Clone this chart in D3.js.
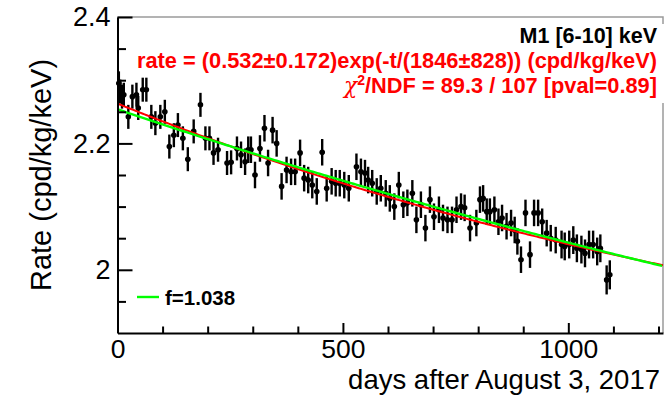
<!DOCTYPE html>
<html>
<head>
<meta charset="utf-8">
<script src="https://cdn.jsdelivr.net/npm/d3@7"></script>
<style>
  html, body { margin: 0; padding: 0; background: #fff; }
  svg { display: block; font-family: "Liberation Sans", Arial, Helvetica, sans-serif; }
</style>
</head>
<body>
<svg id="chart" width="671" height="396"></svg>
<script>
// Measured rate per time bin (days after August 3, 2017), M1 events, 6-10 keV
const days = [
  3, 6, 10, 14, 24, 33, 42, 46, 56, 64, 75, 84, 95, 105, 115, 125, 134, 145, 156, 169, 184, 195, 204, 213, 223, 243, 252, 265,
  274, 283, 290, 296, 305, 316, 326, 334, 344, 353, 364, 375, 385, 394, 405, 414, 423, 432, 442, 454, 464, 475, 484, 493, 503, 513,
  530, 540, 549, 556, 565, 575, 584, 595, 604, 614, 624, 634, 643, 654, 663, 673, 683, 693, 702, 713, 722, 732, 742, 752, 762, 770, 782,
  796, 804, 811, 819, 826, 836, 845, 853, 863, 873, 881, 887, 895, 905, 915, 924, 933, 942, 952, 961, 972,
  985, 992, 1002, 1011, 1019, 1029, 1037, 1046, 1055, 1064, 1071, 1085, 1092
];
const rates = [
  2.295, 2.282, 2.274, 2.277, 2.242, 2.274, 2.277, 2.256, 2.285, 2.285, 2.242, 2.232, 2.242, 2.250, 2.195, 2.213, 2.229, 2.208, 2.175, 2.219, 2.261, 2.208, 2.208, 2.185, 2.190, 2.169, 2.170, 2.192,
  2.182, 2.171, 2.190, 2.190, 2.150, 2.192, 2.224, 2.169, 2.221, 2.200, 2.132, 2.158, 2.155, 2.155, 2.185, 2.145, 2.142, 2.134, 2.124, 2.186, 2.129, 2.140, 2.137, 2.137, 2.134, 2.129,
  2.163, 2.155, 2.153, 2.142, 2.137, 2.124, 2.129, 2.121, 2.113, 2.100, 2.134, 2.103, 2.106, 2.121, 2.079, 2.103, 2.066, 2.111, 2.084, 2.095, 2.082, 2.079, 2.079, 2.095, 2.100, 2.098, 2.066,
  2.074, 2.111, 2.113, 2.092, 2.092, 2.095, 2.076, 2.082, 2.069, 2.074, 2.063, 2.045, 2.016, 2.090, 2.024, 2.090, 2.090, 2.076, 2.058, 2.050, 2.047,
  2.040, 2.037, 2.040, 2.047, 2.034, 2.032, 2.026, 2.040, 2.040, 2.029, 2.034, 1.984, 1.992
];
const errs = [
  0.019, 0.019, 0.019, 0.019, 0.019, 0.019, 0.019, 0.019, 0.019, 0.019, 0.019, 0.019, 0.019, 0.019, 0.019, 0.019, 0.019, 0.019, 0.019, 0.019, 0.019, 0.019, 0.019, 0.019, 0.019, 0.019, 0.019, 0.019,
  0.021, 0.021, 0.021, 0.021, 0.021, 0.021, 0.021, 0.021, 0.021, 0.021, 0.021, 0.021, 0.021, 0.021, 0.021, 0.021, 0.021, 0.021, 0.021, 0.021, 0.021, 0.021, 0.021, 0.021, 0.021, 0.021,
  0.021, 0.021, 0.021, 0.021, 0.021, 0.021, 0.021, 0.021, 0.021, 0.021, 0.021, 0.021, 0.021, 0.021, 0.021, 0.021, 0.021, 0.021, 0.021, 0.021, 0.021, 0.021, 0.021, 0.021, 0.021, 0.021, 0.021,
  0.021, 0.021, 0.021, 0.021, 0.021, 0.021, 0.021, 0.021, 0.021, 0.021, 0.021, 0.021, 0.021, 0.021, 0.021, 0.021, 0.021, 0.021, 0.021, 0.021, 0.021,
  0.022, 0.022, 0.022, 0.022, 0.022, 0.022, 0.022, 0.022, 0.022, 0.022, 0.022, 0.023, 0.023
];
const binHalfWidth = 5; // days

// Exponential fit (red): rate = offset + amp * exp(-t / tau)
const fitAmp = 0.532, fitTau = 1846, fitOffset = 1.731;
// Scaled model (green), f = 1.038
const modelAmp = 0.849, modelTau = 3500, modelOffset = 1.405, modelStart = 3;

// Axis ticks
const xDomain = [0, 1210];
const yDomain = [1.9, 2.4];
const xMajorTicks = [0, 500, 1000];
const xTickLabels = ["0", "500", "1000"];
const xMinorTicks = [100, 200, 300, 400, 600, 700, 800, 900, 1100, 1200];
const yMajorTicks = [2.0, 2.2, 2.4];
const yTickLabels = ["2", "2.2", "2.4"];
const yMinorTicks = [1.95, 2.05, 2.1, 2.15, 2.25, 2.3, 2.35];

const svg = d3.select("#chart");
const plotLeft = 117.5, plotRight = 663, plotTop = 17, plotBottom = 333;

const x = d3.scaleLinear().domain(xDomain).range([plotLeft, plotRight]);
const y = d3.scaleLinear().domain(yDomain).range([plotBottom, plotTop]);

// frame (top and right sides)
svg.append("path")
  .attr("d", `M${plotLeft},${plotTop}H${plotRight}V${plotBottom}`)
  .attr("fill", "none").attr("stroke", "#9a9a9a").attr("stroke-width", 1.5);

// statistics box background
svg.append("rect")
  .attr("x", 130).attr("y", 24).attr("width", 541).attr("height", 79)
  .attr("fill", "#fff");

// data points with error bars
const pts = svg.append("g").attr("stroke", "#000").attr("stroke-width", 2.4);
days.forEach((d, i) => {
  const r = rates[i], e = errs[i];
  pts.append("line")
    .attr("x1", x(d)).attr("x2", x(d))
    .attr("y1", y(r - e)).attr("y2", y(r + e));
  pts.append("line")
    .attr("x1", x(d - binHalfWidth)).attr("x2", x(d + binHalfWidth))
    .attr("y1", y(r)).attr("y2", y(r));
  pts.append("circle")
    .attr("cx", x(d)).attr("cy", y(r)).attr("r", 2.8)
    .attr("fill", "#000").attr("stroke", "none");
});

// fit curves
const tFit = d3.range(0, xDomain[1] + 1, 5);
const fitLine = d3.line()
  .x(t => x(t))
  .y(t => y(fitOffset + fitAmp * Math.exp(-t / fitTau)));
svg.append("path").attr("d", fitLine(tFit))
  .attr("fill", "none").attr("stroke", "#ff0000").attr("stroke-width", 2);

const tModel = d3.range(modelStart, xDomain[1] + 1, 5);
const modelLine = d3.line()
  .x(t => x(t))
  .y(t => y(modelOffset + modelAmp * Math.exp(-t / modelTau)));
svg.append("path").attr("d", modelLine(tModel))
  .attr("fill", "none").attr("stroke", "#00ff00").attr("stroke-width", 2.4);

// axes
function styleAxis(g, fontSize) {
  g.selectAll(".domain").attr("stroke", "#000").attr("stroke-width", 2);
  g.selectAll(".tick line").attr("stroke", "#000").attr("stroke-width", 2);
  g.selectAll(".tick text").attr("fill", "#000")
    .style("font-size", fontSize + "px")
    .style("font-family", '"Liberation Sans", Arial, sans-serif');
}

const yMajor = svg.append("g").attr("transform", `translate(${plotLeft},0)`)
  .call(d3.axisLeft(y).tickValues(yMajorTicks)
    .tickFormat((d, i) => yTickLabels[i])
    .tickSize(-15).tickSizeOuter(0).tickPadding(7));
styleAxis(yMajor, 27);
const yMinor = svg.append("g").attr("transform", `translate(${plotLeft},0)`)
  .call(d3.axisLeft(y).tickValues(yMinorTicks).tickFormat("")
    .tickSize(-8.5).tickSizeOuter(0));
yMinor.select(".domain").remove();
styleAxis(yMinor, 27);

const xMajor = svg.append("g").attr("transform", `translate(0,${plotBottom})`)
  .call(d3.axisBottom(x).tickValues(xMajorTicks)
    .tickFormat((d, i) => xTickLabels[i])
    .tickSize(-10).tickSizeOuter(0).tickPadding(6));
styleAxis(xMajor, 26.5);
const xMinor = svg.append("g").attr("transform", `translate(0,${plotBottom})`)
  .call(d3.axisBottom(x).tickValues(xMinorTicks).tickFormat("")
    .tickSize(-6.5).tickSizeOuter(0));
xMinor.select(".domain").remove();
styleAxis(xMinor, 26.5);

// axis titles
svg.append("text")
  .attr("transform", "translate(51,175) rotate(-90)")
  .attr("text-anchor", "middle")
  .style("font-size", "29px").attr("fill", "#000")
  .text("Rate (cpd/kg/keV)");
svg.append("text")
  .attr("x", 660).attr("y", 389)
  .attr("text-anchor", "end")
  .style("font-size", "27.5px").attr("fill", "#000")
  .text("days after August 3, 2017");

// statistics box text
svg.append("text")
  .attr("x", 657).attr("y", 43).attr("text-anchor", "end")
  .style("font-size", "21.5px").style("font-weight", "bold").attr("fill", "#000")
  .text("M1 [6-10] keV");
svg.append("text")
  .attr("x", 657).attr("y", 68).attr("text-anchor", "end")
  .style("font-size", "21.8px").style("font-weight", "bold").attr("fill", "#ff0000")
  .text("rate = (0.532\u00b10.172)exp(-t/(1846\u00b1828)) (cpd/kg/keV)");
const chi = svg.append("text")
  .attr("x", 657).attr("y", 93).attr("text-anchor", "end")
  .style("font-size", "21.8px").style("font-weight", "bold").attr("fill", "#ff0000");
chi.append("tspan").style("font-weight", "normal").style("font-family", '"DejaVu Serif", serif').style("font-style", "italic").text("\u03c7");
chi.append("tspan").attr("dy", -8).style("font-size", "14px").text("2");
chi.append("tspan").attr("dy", 8).text("/NDF = 89.3 / 107 [pval=0.89]");

// legend
svg.append("line")
  .attr("x1", 137).attr("x2", 159).attr("y1", 297).attr("y2", 297)
  .attr("stroke", "#00ff00").attr("stroke-width", 2.4);
svg.append("text")
  .attr("x", 165).attr("y", 305)
  .style("font-size", "20.5px").style("font-weight", "bold").attr("fill", "#000")
  .text("f=1.038");
</script>
</body>
</html>
